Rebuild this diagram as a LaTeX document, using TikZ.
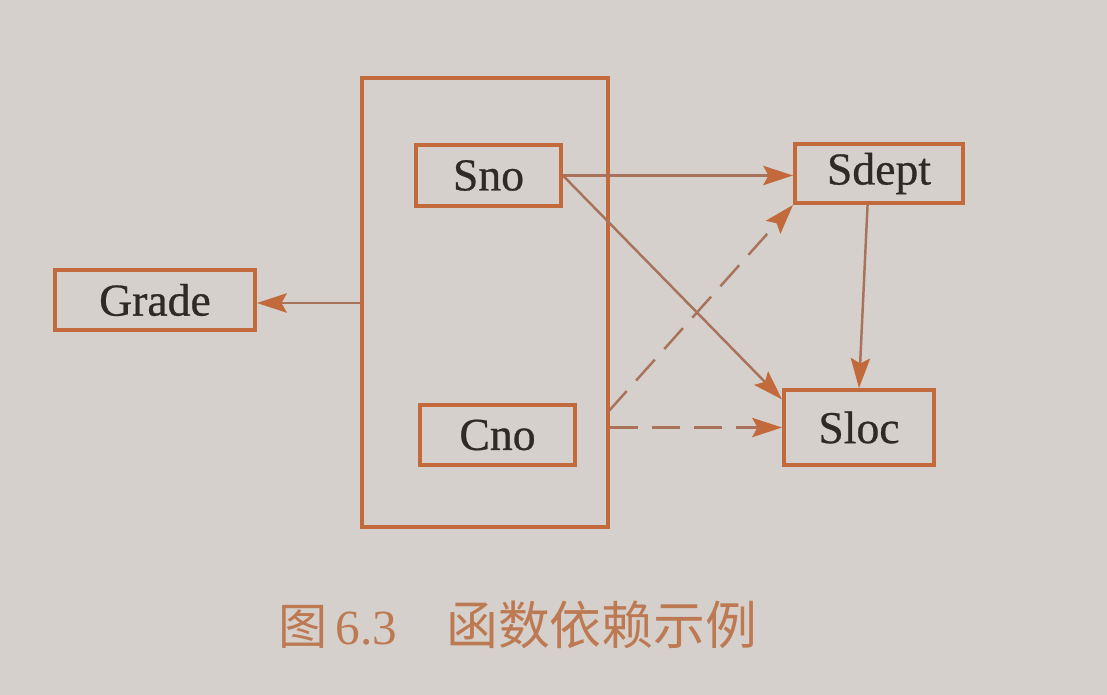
\documentclass[tikz,border=0pt]{standalone}
\usepackage{fontspec}
\setmainfont{Liberation Serif}
\newfontfamily\cjk{Noto Sans CJK SC}
\newfontfamily\labelfont[FakeBold=0.6]{Liberation Serif}
\usetikzlibrary{arrows.meta}
\definecolor{col_d5d0cc}{RGB}{213,208,204}
\definecolor{col_c26a3c}{RGB}{194,106,60}
\definecolor{col_a8735a}{RGB}{168,115,90}
\definecolor{col_2e2a28}{RGB}{46,42,40}
\definecolor{col_bd7a52}{RGB}{189,122,82}
\tikzset{
  attr/.style={draw=col_c26a3c, line width=2.2pt, text=col_2e2a28, inner sep=0pt,
    font=\labelfont\fontsize{26}{30}\selectfont},
  conn/.style={draw=col_a8735a, line width=1.4pt,
    -{Stealth[length=17pt, width=11pt, inset=3pt, color=col_c26a3c]}},
  conndash/.style={conn, dash pattern=on 16pt off 8pt}
}

\begin{document}
\begin{tikzpicture}[x=0.02cm, y=-0.02cm]
\fill[col_d5d0cc] (0,0) rectangle (1107,695);     %% page
\useasboundingbox (0,0) rectangle (1107,695);
%% key box
\node[draw=col_c26a3c, line width=2.2pt, minimum width=4.92cm, minimum height=8.98cm] (key) at (485,302.5) {};
\node[attr, minimum width=2.9cm, minimum height=1.22cm] (sno) at (488.5,175.5) {Sno};
\node[attr, minimum width=3.1cm, minimum height=1.2cm] (cno) at (497.5,435) {Cno};
%% other attributes
\node[attr, minimum width=4.0cm, minimum height=1.2cm] (grade) at (155,300) {Grade};
\node[attr, minimum width=3.36cm, minimum height=1.18cm] (sdept) at (879,173.5) {Sdept};
\node[attr, minimum width=3.0cm, minimum height=1.5cm] (sloc) at (859,427.5) {Sloc};
\coordinate (cnoout) at (608,412);
%% dependencies
\draw[conn] (key.west |- 0,303) -- (grade.east |- 0,303);
\draw[conn] (sno.east) -- (sno.east -| sdept.west);
\draw[conn] (sno.east) -- (sloc.160);
\draw[conn] (sdept.-110) -- (sloc.north);
\draw[conndash] (cnoout) -- (sdept.south west);
\draw[conndash] (key.east |- sloc.west) -- (sloc.west);
%% caption
\node[text=col_bd7a52, font=\fontsize{28}{30}\selectfont, anchor=west] (caption) at (272,625)
  {{\cjk 图}\,6.3\hspace{1em}{\cjk\fontsize{29.5}{30}\selectfont 函数依赖示例}};
\end{tikzpicture}
\end{document}
